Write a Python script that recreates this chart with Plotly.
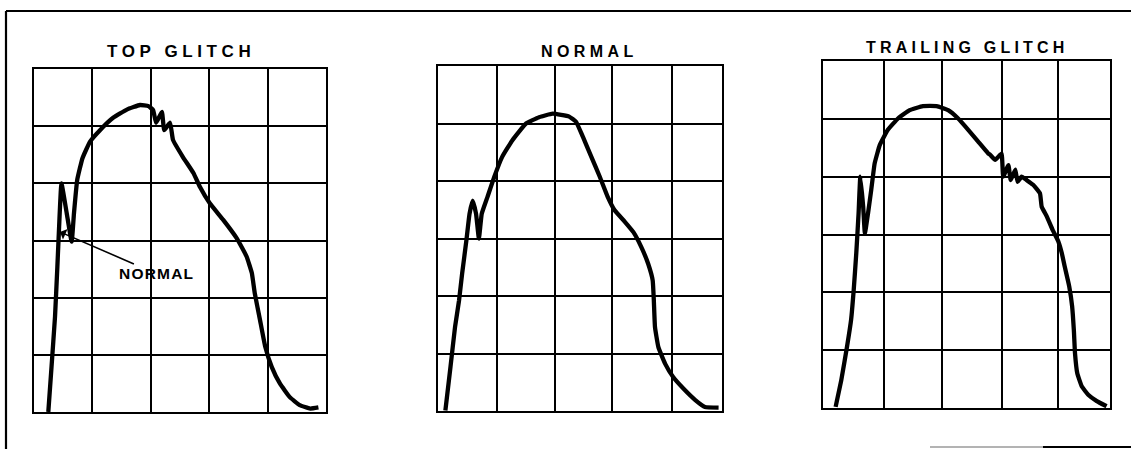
import plotly.graph_objects as go

# ---------------- data (grid units: x 0..5 divisions, y 0..6 divisions) ----------------
panel_titles = ["TOP GLITCH", "NORMAL", "TRAILING GLITCH"]
callout_text = "NORMAL"

top_x = [0.245, 0.30, 0.36, 0.40, 0.43, 0.47, 0.56, 0.645, 0.685, 0.74, 0.83, 0.96, 1.13, 1.36,
         1.59, 1.815, 1.96, 2.04, 2.09, 2.19, 2.23, 2.33, 2.38, 2.55, 2.73, 2.84, 3.01, 3.24,
         3.47, 3.64, 3.73, 3.78, 3.87, 3.96, 4.07, 4.21, 4.38, 4.55, 4.73, 4.87]
top_y = [0.0, 0.79, 1.67, 2.54, 3.24, 4.0, 3.48, 2.98, 3.48, 4.06, 4.44, 4.73, 4.93, 5.15,
         5.29, 5.37, 5.35, 5.28, 5.06, 5.25, 4.93, 5.06, 4.76, 4.46, 4.18, 3.94, 3.65, 3.36,
         3.04, 2.72, 2.43, 2.08, 1.61, 1.14, 0.79, 0.50, 0.26, 0.12, 0.06, 0.08]

normal_x = [0.13, 0.22, 0.30, 0.37, 0.425, 0.50, 0.555, 0.61, 0.67, 0.72, 0.77, 0.87, 0.99,
            1.13, 1.31, 1.55, 1.78, 2.02, 2.31, 2.43, 2.55, 2.70, 2.85, 2.99, 3.11, 3.29,
            3.44, 3.58, 3.70, 3.78, 3.80, 3.82, 3.88, 4.00, 4.14, 4.32, 4.53, 4.70, 4.94]
normal_y = [0.01, 0.77, 1.46, 1.92, 2.39, 2.97, 3.43, 3.66, 3.43, 3.00, 3.43, 3.72, 4.07,
            4.42, 4.71, 5.00, 5.11, 5.17, 5.12, 5.03, 4.77, 4.42, 4.07, 3.72, 3.49, 3.29,
            3.11, 2.85, 2.56, 2.27, 1.92, 1.46, 1.11, 0.82, 0.59, 0.39, 0.19, 0.07, 0.06]

trailing_x = [0.22, 0.32, 0.42, 0.49, 0.535, 0.58, 0.62, 0.65, 0.70, 0.73, 0.785, 0.84, 0.90,
              0.99, 1.13, 1.31, 1.51, 1.74, 1.98, 2.18, 2.35, 2.53, 2.70, 2.88, 2.91, 3.00,
              3.11, 3.14, 3.23, 3.27, 3.35, 3.39, 3.46, 3.55, 3.66, 3.78, 3.81, 3.90, 4.00,
              4.10, 4.16, 4.21, 4.29, 4.34, 4.37, 4.39, 4.43, 4.51, 4.62, 4.77, 4.94]
trailing_y = [0.02, 0.49, 1.07, 1.53, 2.04, 2.68, 3.37, 4.00, 3.48, 3.02, 3.37, 3.77, 4.23,
              4.55, 4.81, 5.01, 5.15, 5.22, 5.22, 5.15, 5.01, 4.81, 4.61, 4.40, 4.38, 4.29,
              4.40, 4.00, 4.20, 3.94, 4.12, 3.91, 4.00, 3.94, 3.86, 3.71, 3.48, 3.31, 3.08,
              2.88, 2.68, 2.45, 2.10, 1.76, 1.35, 0.95, 0.60, 0.37, 0.23, 0.12, 0.03]

callout_point = (0.445, 3.15)

# ---------------- figure ----------------
W, H = 1131, 449


def px_x(p):
    return p / W


def px_y(p):
    return 1 - p / H


panels = [
    dict(x=top_x, y=top_y, box=(34, 326, 69, 412), xgrid=[0, 1, 2, 3, 4, 5],
         title_xy=(181, 52), size=17, weight="bold", spacing=4.6),
    dict(x=normal_x, y=normal_y, box=(438, 722, 66, 411), xgrid=[0, 1.04, 2.06, 3.07, 4.12, 5],
         title_xy=(589, 52), size=16, weight="bold", spacing=4.4),
    dict(x=trailing_x, y=trailing_y, box=(823, 1110, 61, 408), xgrid=[0, 1.06, 2.08, 3.11, 4.10, 5],
         title_xy=(967, 47), size=16, weight="bold", spacing=4.2),
]

fig = go.Figure()
layout = dict(
    width=W, height=H,
    margin=dict(l=0, r=0, t=0, b=0),
    paper_bgcolor="white", plot_bgcolor="white",
    showlegend=False,
    annotations=[], shapes=[],
)

for i, p in enumerate(panels):
    n = "" if i == 0 else str(i + 1)
    x0, x1, y0, y1 = p["box"]
    fig.add_trace(go.Scatter(
        x=p["x"], y=p["y"], mode="lines", xaxis="x" + n, yaxis="y" + n,
        line=dict(color="black", width=4.3, shape="spline", smoothing=0.35),
        hoverinfo="skip",
    ))
    axis_common = dict(
        showgrid=True, gridcolor="black", gridwidth=1.8,
        showticklabels=False, ticks="", zeroline=False,
        showline=True, linecolor="black", linewidth=2, mirror=True,
        fixedrange=True,
    )
    layout["xaxis" + n] = dict(
        domain=[px_x(x0), px_x(x1)], range=[0, 5], tickmode="array",
        tickvals=p["xgrid"], anchor="y" + n, **axis_common)
    layout["yaxis" + n] = dict(
        domain=[px_y(y1), px_y(y0)], range=[0, 6], tickmode="array",
        tickvals=[0, 1, 2, 3, 4, 5, 6], anchor="x" + n, **axis_common)
    tx, ty = p["title_xy"]
    layout["annotations"].append(dict(
        xref="paper", yref="paper", x=px_x(tx), y=px_y(ty), showarrow=False,
        xanchor="center", yanchor="middle",
        text='<span style="letter-spacing:%spx">%s</span>' % (p["spacing"], panel_titles[i]),
        font=dict(family="Liberation Sans, Arial, sans-serif", size=p["size"], color="black",
                  weight=p["weight"]),
    ))

# callout arrow in first panel
layout["annotations"].append(dict(
    xref="x", yref="y", x=callout_point[0], y=callout_point[1],
    ax=97, ay=42, axref="pixel", ayref="pixel",
    text='<span style="letter-spacing:1.2px">%s</span>' % callout_text, showarrow=True,
    arrowhead=1, arrowsize=1.2, arrowwidth=1.6, arrowcolor="black",
    font=dict(family="Liberation Sans, Arial, sans-serif", size=15.5, color="black",
              weight="bold"),
))

# outer frame fragments of the scanned page
frame = [
    ((6, 11), (1131, 11), "black", 2.2),
    ((6, 11), (6, 449), "black", 2.2),
    ((930, 447), (1043, 447), "#9a9a9a", 1.5),
    ((1043, 447), (1131, 447), "black", 2),
]
for (a, b, c, w) in frame:
    layout["shapes"].append(dict(
        type="line", xref="paper", yref="paper",
        x0=px_x(a[0]), y0=px_y(a[1]), x1=px_x(b[0]), y1=px_y(b[1]),
        line=dict(color=c, width=w),
    ))

fig.update_layout(**layout)
fig.write_html(
    "out.html",
    config={"displayModeBar": False},
    post_script="document.body.style.margin='0';document.body.style.overflow='hidden';",
)
